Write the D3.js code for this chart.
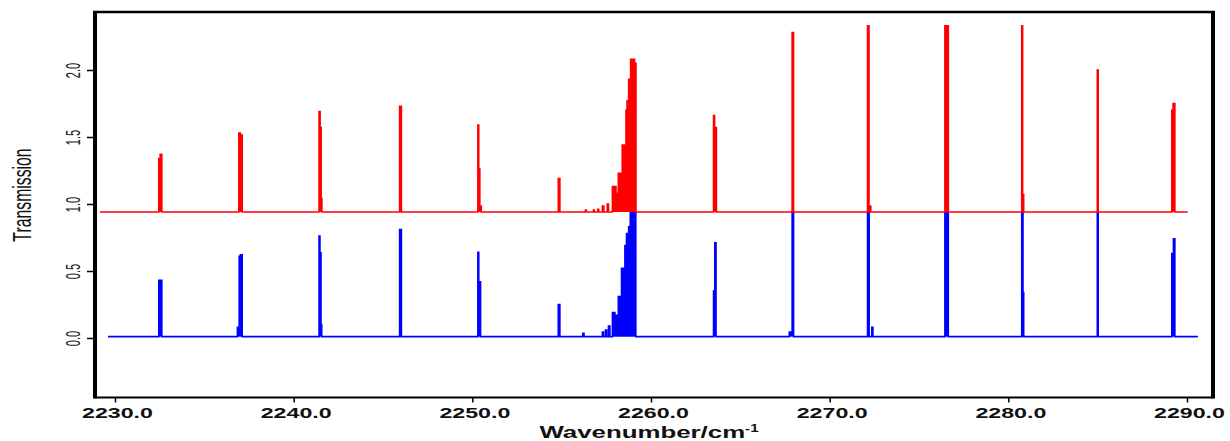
<!DOCTYPE html>
<html>
<head>
<meta charset="utf-8">
<script src="https://cdn.jsdelivr.net/npm/d3@7"></script>
<style>
  html, body { margin: 0; padding: 0; background: #fff; }
  svg { display: block; }
</style>
</head>
<body>
<svg id="chart" width="1230" height="441"></svg>
<script>
// ---- data (step spectrum: value holds from each wavenumber to the next) ----
const xTicks = [2230, 2240, 2250, 2260, 2270, 2280, 2290];
const yTicks = [0.0, 0.5, 1.0, 1.5, 2.0];

const redBaseline = 0.94;
const redWavenumber = [
  2229.16, 2232.45, 2232.53, 2232.62, 2236.93, 2237.02, 2237.12,
  2241.42, 2241.48, 2241.54, 2241.58, 2245.93, 2246.03,
  2250.31, 2250.36, 2250.42, 2250.50, 2254.81, 2254.90,
  2256.33, 2256.38, 2256.78, 2256.83, 2257.02, 2257.07, 2257.28, 2257.36,
  2257.55, 2257.62, 2257.84, 2258.04, 2258.17, 2258.39, 2258.60, 2258.66,
  2258.75, 2258.86, 2259.08, 2259.16,
  2263.50, 2263.56, 2263.66, 2267.90, 2267.98,
  2272.12, 2272.20, 2272.30, 2276.45, 2276.64,
  2280.75, 2280.80, 2280.86, 2284.98, 2285.03,
  2289.15, 2289.22, 2289.32, 2290.04
];
const redTransmission = [
  0.94, 1.34, 1.37, 0.94, 1.53, 1.515, 0.94,
  1.69, 1.57, 1.04, 0.94, 1.73, 0.94,
  1.59, 1.26, 0.985, 0.94, 1.19, 0.94,
  0.955, 0.94, 0.955, 0.94, 0.96, 0.94, 0.985, 0.94,
  1.00, 0.94, 1.13, 1.08, 1.23, 1.44, 1.70, 1.77,
  1.93, 2.08, 2.05, 0.94,
  1.66, 1.57, 0.94, 2.28, 0.94,
  2.33, 0.985, 0.94, 2.33, 0.94,
  2.33, 1.07, 0.94, 2.00, 0.94,
  1.70, 1.75, 0.94, 0.94
];

const blueBaseline = 0.01;
const blueWavenumber = [
  2229.61, 2232.45, 2232.62, 2236.85, 2236.95, 2237.02, 2237.12,
  2241.42, 2241.47, 2241.53, 2241.57, 2245.93, 2246.03,
  2250.31, 2250.36, 2250.46, 2254.81, 2254.90, 2256.18, 2256.25,
  2257.28, 2257.34, 2257.45, 2257.52, 2257.62, 2257.70,
  2257.84, 2257.98, 2258.17, 2258.35, 2258.54, 2258.63, 2258.75, 2258.84, 2259.15,
  2263.50, 2263.57, 2263.64, 2267.74, 2267.90, 2267.98,
  2272.12, 2272.21, 2272.36, 2272.42, 2276.45, 2276.64,
  2280.75, 2280.82, 2280.86, 2284.98, 2285.03,
  2289.15, 2289.24, 2289.32, 2290.61
];
const blueTransmission = [
  0.01, 0.43, 0.01, 0.08, 0.61, 0.62, 0.01,
  0.76, 0.635, 0.10, 0.01, 0.81, 0.01,
  0.64, 0.42, 0.01, 0.25, 0.01, 0.035, 0.01,
  0.045, 0.01, 0.06, 0.01, 0.09, 0.01,
  0.19, 0.17, 0.31, 0.52, 0.69, 0.78, 0.83, 0.94, 0.01,
  0.35, 0.71, 0.01, 0.045, 0.94, 0.01,
  0.94, 0.01, 0.08, 0.01, 0.94, 0.01,
  0.94, 0.34, 0.01, 0.94, 0.01,
  0.63, 0.74, 0.01, 0.01
];

// ---- layout ----
const svg = d3.select("#chart");
const frame = { left: 95, right: 1213, top: 12, bottom: 397.5 };

const x = d3.scaleLinear().domain([2230, 2290]).range([115, 1187]);
const y = d3.scaleLinear().domain([0, 2]).range([338, 70]);

// ---- spectra ----
function drawSeries(wn, tr, base, color) {
  const pts = wn.map((w, i) => ({ w, t: tr[i] }));
  const area = d3.area()
    .x(d => x(d.w))
    .y0(y(base))
    .y1(d => y(d.t))
    .curve(d3.curveStepAfter);
  const line = d3.line()
    .x(d => x(d.w))
    .y(d => y(d.t))
    .curve(d3.curveStepAfter);
  svg.append("path").datum(pts).attr("d", area).attr("fill", color).attr("stroke", "none");
  svg.append("path").datum(pts).attr("d", line).attr("fill", "none")
    .attr("stroke", color).attr("stroke-width", 1.6);
}
drawSeries(blueWavenumber, blueTransmission, blueBaseline, "#0000ff");
drawSeries(redWavenumber, redTransmission, redBaseline, "#ff0000");

// ---- axes ----
const xAxis = svg.append("g")
  .attr("transform", `translate(0,${frame.bottom})`)
  .call(d3.axisBottom(x).tickValues(xTicks).tickFormat(d3.format(".1f")).tickSize(5).tickSizeOuter(0));
xAxis.select(".domain").remove();
xAxis.selectAll(".tick line").attr("stroke", "#000").attr("stroke-width", 1.5);
xAxis.selectAll(".tick text")
  .attr("y", 0).attr("dy", 0)
  .attr("transform", "translate(2,20) scale(1.6,1)")
  .attr("font-family", "'Liberation Sans', Arial, sans-serif")
  .attr("font-weight", "bold")
  .attr("font-size", 14.5)
  .attr("fill", "#111");

const yAxis = svg.append("g")
  .attr("transform", `translate(${frame.left - 2},0)`)
  .call(d3.axisLeft(y).tickValues(yTicks).tickFormat(d3.format(".1f")).tickSize(6).tickSizeOuter(0));
yAxis.select(".domain").remove();
yAxis.selectAll(".tick line").attr("stroke", "#000").attr("stroke-width", 1.5);
yAxis.selectAll(".tick text")
  .attr("x", 0).attr("y", 0).attr("dy", 0)
  .attr("text-anchor", "middle")
  .attr("transform", "translate(-13,0) rotate(-90) scale(1,1.8)")
  .attr("font-family", "'Liberation Sans', Arial, sans-serif")
  .attr("font-size", 11)
  .attr("fill", "#222");

// ---- frame ----
const fr = svg.append("g").attr("stroke", "#000").attr("fill", "none");
fr.append("line").attr("x1", frame.left - 2).attr("x2", frame.right + 2)
  .attr("y1", frame.top).attr("y2", frame.top).attr("stroke-width", 2.5);
fr.append("line").attr("x1", frame.left).attr("x2", frame.right)
  .attr("y1", frame.bottom).attr("y2", frame.bottom).attr("stroke-width", 2);
fr.append("line").attr("x1", frame.left).attr("x2", frame.left)
  .attr("y1", frame.top - 1).attr("y2", frame.bottom + 1).attr("stroke-width", 4);
fr.append("line").attr("x1", frame.right).attr("x2", frame.right)
  .attr("y1", frame.top - 1).attr("y2", frame.bottom + 1).attr("stroke-width", 4);

// ---- axis titles ----
svg.append("text")
  .attr("transform", `translate(31,${(148 + 242) / 2}) rotate(-90) scale(1,1.6)`)
  .attr("text-anchor", "middle")
  .attr("font-family", "'Liberation Sans', Arial, sans-serif")
  .attr("font-size", 15.8)
  .attr("fill", "#111")
  .text("Transmission");

const xt = svg.append("text")
  .attr("transform", `translate(${649},438) scale(1.52,1)`)
  .attr("text-anchor", "middle")
  .attr("font-family", "'Liberation Sans', Arial, sans-serif")
  .attr("font-weight", "bold")
  .attr("font-size", 17)
  .attr("fill", "#111");
xt.append("tspan").text("Wavenumber/cm");
xt.append("tspan").attr("dy", -6).attr("font-size", 10).text("-1");
</script>
</body>
</html>
